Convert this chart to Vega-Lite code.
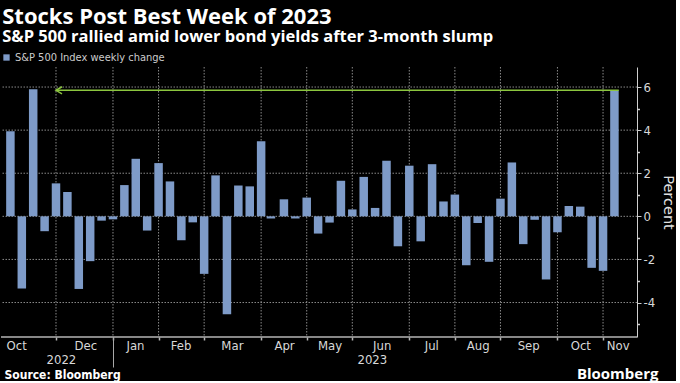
{
  "$schema": "https://vega.github.io/schema/vega-lite/v6.json",
  "width": 636,
  "height": 270,
  "padding": {"top": 5, "left": 0, "right": 0, "bottom": 0},
  "background": "#000000",
  "title": {
    "text": "Stocks Post Best Week of 2023",
    "subtitle": "S&P 500 rallied amid lower bond yields after 3-month slump",
    "anchor": "start",
    "font": "Open Sans",
    "fontSize": 22,
    "fontWeight": "bold",
    "color": "#ffffff",
    "subtitleFont": "Open Sans",
    "subtitleFontSize": 16.5,
    "subtitleFontWeight": "bold",
    "subtitleColor": "#ffffff",
    "subtitlePadding": 0,
    "offset": 6,
    "dx": 2
  },
  "datasets": {
    "weekly": [
      {"date": "2022-10-28", "change": 3.95},
      {"date": "2022-11-04", "change": -3.35},
      {"date": "2022-11-11", "change": 5.90},
      {"date": "2022-11-18", "change": -0.69},
      {"date": "2022-11-25", "change": 1.53},
      {"date": "2022-12-02", "change": 1.13},
      {"date": "2022-12-09", "change": -3.37},
      {"date": "2022-12-16", "change": -2.08},
      {"date": "2022-12-23", "change": -0.20},
      {"date": "2022-12-30", "change": -0.14},
      {"date": "2023-01-06", "change": 1.45},
      {"date": "2023-01-13", "change": 2.67},
      {"date": "2023-01-20", "change": -0.66},
      {"date": "2023-01-27", "change": 2.47},
      {"date": "2023-02-03", "change": 1.62},
      {"date": "2023-02-10", "change": -1.11},
      {"date": "2023-02-17", "change": -0.28},
      {"date": "2023-02-24", "change": -2.67},
      {"date": "2023-03-03", "change": 1.90},
      {"date": "2023-03-10", "change": -4.55},
      {"date": "2023-03-17", "change": 1.43},
      {"date": "2023-03-24", "change": 1.39},
      {"date": "2023-03-31", "change": 3.48},
      {"date": "2023-04-06", "change": -0.10},
      {"date": "2023-04-14", "change": 0.79},
      {"date": "2023-04-21", "change": -0.10},
      {"date": "2023-04-28", "change": 0.87},
      {"date": "2023-05-05", "change": -0.80},
      {"date": "2023-05-12", "change": -0.29},
      {"date": "2023-05-19", "change": 1.65},
      {"date": "2023-05-26", "change": 0.32},
      {"date": "2023-06-02", "change": 1.83},
      {"date": "2023-06-09", "change": 0.39},
      {"date": "2023-06-16", "change": 2.58},
      {"date": "2023-06-23", "change": -1.39},
      {"date": "2023-06-30", "change": 2.35},
      {"date": "2023-07-07", "change": -1.16},
      {"date": "2023-07-14", "change": 2.42},
      {"date": "2023-07-21", "change": 0.69},
      {"date": "2023-07-28", "change": 1.01},
      {"date": "2023-08-04", "change": -2.27},
      {"date": "2023-08-11", "change": -0.31},
      {"date": "2023-08-18", "change": -2.11},
      {"date": "2023-08-25", "change": 0.82},
      {"date": "2023-09-01", "change": 2.50},
      {"date": "2023-09-08", "change": -1.29},
      {"date": "2023-09-15", "change": -0.16},
      {"date": "2023-09-22", "change": -2.93},
      {"date": "2023-09-29", "change": -0.74},
      {"date": "2023-10-06", "change": 0.48},
      {"date": "2023-10-13", "change": 0.45},
      {"date": "2023-10-20", "change": -2.39},
      {"date": "2023-10-27", "change": -2.53},
      {"date": "2023-11-03", "change": 5.85}
    ],
    "arrow": [
      {"start": "2022-11-25", "end": "2023-11-05T16:00:00Z", "value": 5.85}
    ],
    "monthEnds": [
      {"date": "2022-11-25"}, {"date": "2022-12-30"}, {"date": "2023-01-27"},
      {"date": "2023-02-24"}, {"date": "2023-03-31"}, {"date": "2023-04-28"},
      {"date": "2023-05-26"}, {"date": "2023-06-30"}, {"date": "2023-07-28"},
      {"date": "2023-08-25"}, {"date": "2023-09-29"}, {"date": "2023-10-27"}
    ],
    "gridY": [
      {"value": -4}, {"value": -2}, {"value": 0}, {"value": 2}, {"value": 4}, {"value": 6}
    ],
    "axisBase": [
      {"value": -5.6}
    ]
  },
  "layer": [
    {
      "data": {"name": "monthEnds"},
      "mark": {"type": "rule", "color": "#8a8a8a", "strokeWidth": 1, "strokeDash": [1.5, 1.5]},
      "encoding": {
        "x": {
          "field": "date",
          "type": "temporal",
          "scale": {
            "type": "utc",
            "domain": [
              {"year": 2022, "month": 10, "date": 25, "hours": 7, "utc": true},
              {"year": 2023, "month": 11, "date": 13, "hours": 19, "utc": true}
            ]
          },
          "axis": null
        }
      }
    },
    {
      "data": {"name": "gridY"},
      "mark": {"type": "rule", "color": "#8a8a8a", "strokeWidth": 1, "strokeDash": [1.5, 1.5]},
      "encoding": {
        "y": {
          "field": "value",
          "type": "quantitative",
          "scale": {"domain": [-5.6, 6.93], "nice": false, "zero": false},
          "axis": null
        }
      }
    },
    {
      "data": {"name": "weekly"},
      "mark": {"type": "bar", "size": 8.5},
      "encoding": {
        "x": {"field": "date", "type": "temporal", "axis": null},
        "y": {
          "field": "change",
          "type": "quantitative",
          "axis": {
            "orient": "right",
            "values": [-4, -2, 0, 2, 4, 6],
            "labelExpr": "datum.value < 0 ? '-' + abs(datum.value) : '' + datum.value",
            "title": "Percent",
            "titleAngle": 90,
            "titleFont": "DejaVu Sans",
            "titleFontSize": 14.5,
            "titleFontWeight": "normal",
            "titleColor": "#e0e0e0",
            "titlePadding": 6,
            "labelFont": "DejaVu Sans Condensed, Liberation Sans Narrow, sans-serif",
            "labelFontSize": 13,
            "labelColor": "#d8d8d8",
            "labelPadding": 2,
            "grid": false,
            "domain": true,
            "domainColor": "#cfcfcf",
            "ticks": true,
            "tickColor": "#cfcfcf",
            "tickSize": 4
          }
        },
        "color": {
          "datum": "S&P 500 Index weekly change",
          "type": "nominal",
          "scale": {"range": ["#7e9bc8"]},
          "legend": {
            "orient": "top",
            "title": null,
            "symbolType": "square",
            "symbolSize": 40,
            "symbolStrokeWidth": 0,
            "labelFont": "DejaVu Sans Condensed, Liberation Sans Narrow, sans-serif",
            "labelFontSize": 11,
            "labelColor": "#cccccc",
            "labelOffset": 3,
            "offset": 4,
            "padding": 0
          }
        }
      }
    },
    {
      "data": {"name": "axisBase"},
      "mark": {"type": "rule", "color": "#b4b4b4", "strokeWidth": 1.5},
      "encoding": {
        "y": {"field": "value", "type": "quantitative", "axis": null}
      }
    },
    {
      "data": {"name": "arrow"},
      "mark": {"type": "rule", "color": "#8cc63f", "strokeWidth": 1.5},
      "encoding": {
        "x": {
          "field": "start",
          "type": "temporal",
          "axis": {
            "orient": "bottom",
            "values": [
              {"year": 2022, "month": 10, "date": 31, "hours": 12, "utc": true},
              {"year": 2022, "month": 11, "date": 25, "utc": true},
              {"year": 2022, "month": 12, "date": 13, "utc": true, "hours": 1},
              {"year": 2022, "month": 12, "date": 30, "utc": true},
              {"year": 2023, "month": 1, "date": 12, "hours": 12, "utc": true},
              {"year": 2023, "month": 1, "date": 27, "utc": true},
              {"year": 2023, "month": 2, "date": 9, "hours": 12, "utc": true},
              {"year": 2023, "month": 2, "date": 24, "utc": true},
              {"year": 2023, "month": 3, "date": 13, "hours": 1, "utc": true},
              {"year": 2023, "month": 3, "date": 31, "utc": true},
              {"year": 2023, "month": 4, "date": 14, "hours": 1, "utc": true},
              {"year": 2023, "month": 4, "date": 28, "utc": true},
              {"year": 2023, "month": 5, "date": 12, "hours": 1, "utc": true},
              {"year": 2023, "month": 5, "date": 26, "utc": true},
              {"year": 2023, "month": 6, "date": 13, "hours": 1, "utc": true},
              {"year": 2023, "month": 6, "date": 30, "utc": true},
              {"year": 2023, "month": 7, "date": 13, "hours": 12, "utc": true},
              {"year": 2023, "month": 7, "date": 28, "utc": true},
              {"year": 2023, "month": 8, "date": 11, "hours": 1, "utc": true},
              {"year": 2023, "month": 8, "date": 25, "utc": true},
              {"year": 2023, "month": 9, "date": 11, "hours": 1, "utc": true},
              {"year": 2023, "month": 9, "date": 29, "utc": true},
              {"year": 2023, "month": 10, "date": 13, "hours": 1, "utc": true},
              {"year": 2023, "month": 10, "date": 27, "utc": true},
              {"year": 2023, "month": 11, "date": 5, "hours": 1, "utc": true}
            ],
            "labelExpr": "utchours(datum.value) === 0 ? '' : utcFormat(datum.value, '%b')",
            "labelFont": "DejaVu Sans Condensed, Liberation Sans Narrow, sans-serif",
            "labelFontSize": 13,
            "labelColor": "#d8d8d8",
            "labelPadding": -1,
            "labelOverlap": false,
            "labelFlush": false,
            "ticks": true,
            "tickSize": 3,
            "tickWidth": 1.5,
            "tickColor": "#b4b4b4",
            "tickOpacity": {"condition": {"test": "utchours(datum.value) === 0", "value": 1}, "value": 0},
            "grid": false,
            "domain": false,
            "title": "Bloomberg",
            "titleFont": "Open Sans",
            "titleFontSize": 15,
            "titleFontWeight": "bold",
            "titleColor": "#ffffff",
            "titleAnchor": "end",
            "titleAlign": "right",
            "titleBaseline": "alphabetic",
            "titleX": 657,
            "titleY": 41
          }
        },
        "x2": {"field": "end"},
        "y": {
          "field": "value",
          "type": "quantitative",
          "axis": {
            "orient": "right",
            "values": [-5, -3, -1, 1, 3, 5],
            "labels": false,
            "title": null,
            "grid": false,
            "domain": false,
            "ticks": true,
            "tickColor": "#cfcfcf",
            "tickWidth": 1.5,
            "tickSize": 2.5
          }
        }
      }
    },
    {
      "data": {"name": "arrow"},
      "mark": {"type": "point", "shape": "M1.7,-1L0,0L1.7,1", "filled": false, "color": "#8cc63f", "strokeWidth": 1.5, "size": 50, "opacity": 1},
      "encoding": {
        "x": {
          "field": "start",
          "type": "temporal",
          "axis": {
            "orient": "bottom",
            "values": [
              {"year": 2022, "month": 11, "date": 28, "utc": true},
              {"year": 2022, "month": 12, "date": 30, "utc": true},
              {"year": 2023, "month": 6, "date": 7, "utc": true}
            ],
            "labelExpr": "utcmonth(datum.value) === 11 ? '' : utcFormat(datum.value, '%Y')",
            "labelFont": "DejaVu Sans Condensed, Liberation Sans Narrow, sans-serif",
            "labelFontSize": 13,
            "labelColor": "#d8d8d8",
            "labelPadding": -14,
            "labelOverlap": false,
            "ticks": true,
            "tickSize": 30,
            "tickColor": "#a8a8a8",
            "tickOpacity": {"condition": {"test": "utcmonth(datum.value) === 11", "value": 1}, "value": 0},
            "grid": false,
            "domain": false,
            "title": "Source: Bloomberg",
            "titleFont": "DejaVu Sans Condensed, Liberation Sans Narrow, sans-serif",
            "titleFontSize": 12,
            "titleFontWeight": "bold",
            "titleColor": "#ffffff",
            "titleAnchor": "start",
            "titleAlign": "left",
            "titleBaseline": "alphabetic",
            "titleX": 3,
            "titleY": 41
          }
        },
        "y": {"field": "value", "type": "quantitative", "axis": null}
      }
    }
  ],
  "resolve": {"axis": {"x": "independent", "y": "independent"}},
  "config": {
    "view": {"stroke": null}
  }
}
